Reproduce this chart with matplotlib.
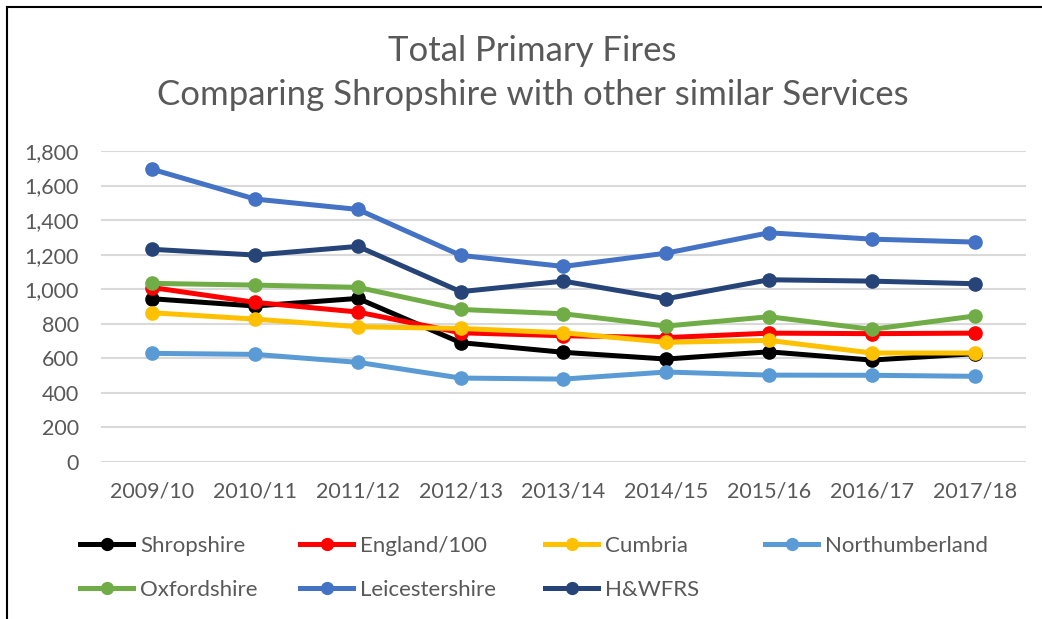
import matplotlib
matplotlib.use("Agg")
import matplotlib.pyplot as plt
from matplotlib.lines import Line2D
from matplotlib.ticker import FuncFormatter

plt.rcParams["font.family"] = ["Lato", "DejaVu Sans"]

years = ["2009/10", "2010/11", "2011/12", "2012/13", "2013/14",
         "2014/15", "2015/16", "2016/17", "2017/18"]

shropshire = [945, 903, 947, 691, 635, 596, 638, 590, 627]
england_100 = [1010, 924, 868, 748, 731, 720, 746, 743, 746]
cumbria = [864, 827, 783, 773, 748, 693, 704, 631, 631]
northumberland = [629, 623, 577, 486, 480, 521, 503, 502, 496]
oxfordshire = [1034, 1024, 1011, 883, 858, 787, 841, 768, 845]
leicestershire = [1694, 1522, 1462, 1196, 1132, 1209, 1327, 1290, 1273]
hwfrs = [1231, 1198, 1248, 986, 1047, 945, 1055, 1047, 1032]

series_names = ["Shropshire", "England/100", "Cumbria", "Northumberland",
                "Oxfordshire", "Leicestershire", "H&WFRS"]
series_values = [shropshire, england_100, cumbria, northumberland,
                 oxfordshire, leicestershire, hwfrs]
series_colors = ["#000000", "#FF0000", "#FFC000", "#5B9BD5",
                 "#70AD47", "#4472C4", "#264478"]

TEXT = "#595959"
GRID = "#D9D9D9"

fig = plt.figure(figsize=(10.42, 6.19), dpi=100)
ax = fig.add_axes([0.0969, 0.2536, 0.8877, 0.5024])

x = list(range(len(years)))
for name, vals, col in zip(series_names, series_values, series_colors):
    ax.plot(x, vals, color=col, lw=3.6, marker="o", ms=9.5,
            solid_capstyle="round", label=name)

ax.set_xlim(-0.5, len(years) - 0.5)
ax.set_ylim(0, 1800)
ax.set_yticks(range(0, 1801, 200))
ax.yaxis.set_major_formatter(FuncFormatter(lambda v, p: f"{int(v):,}"))
ax.set_xticks(x)
ax.set_xticklabels(years)
ax.grid(axis="y", color=GRID, lw=1.5)
ax.set_axisbelow(True)
for s in ax.spines.values():
    s.set_visible(False)
ax.tick_params(axis="y", length=0, pad=16, labelsize=15.5, labelcolor=TEXT)
ax.tick_params(axis="x", length=0, pad=14, labelsize=15.5, labelcolor=TEXT)

fig.text(0.511, 0.882, "Total Primary Fires\nComparing Shropshire with other similar Services",
         ha="center", va="center", fontsize=25, color=TEXT, linespacing=1.48)

# legend entries, placed like Excel's fixed-width columns
col_x = [80, 300, 545, 765]
row_y = [546, 590]
for i, (name, col) in enumerate(zip(series_names, series_colors)):
    r, c = divmod(i, 4)
    h = Line2D([], [], color=col, lw=3.6, marker="o", ms=8.5)
    fig.legend([h], [name], loc="center left", frameon=False,
               bbox_to_anchor=(col_x[c] / 1042, 1 - row_y[r] / 619),
               fontsize=16, labelcolor=TEXT, handlelength=2.4,
               handletextpad=0.3, borderpad=0, borderaxespad=0)

# chart border (top and left edges visible)
fig.add_artist(Line2D([7 / 1042, 1], [1 - 7 / 619, 1 - 7 / 619], color="black", lw=1.5))
fig.add_artist(Line2D([7 / 1042, 7 / 1042], [0, 1 - 7 / 619], color="black", lw=1.5))

fig.savefig("out.png", dpi=100)
